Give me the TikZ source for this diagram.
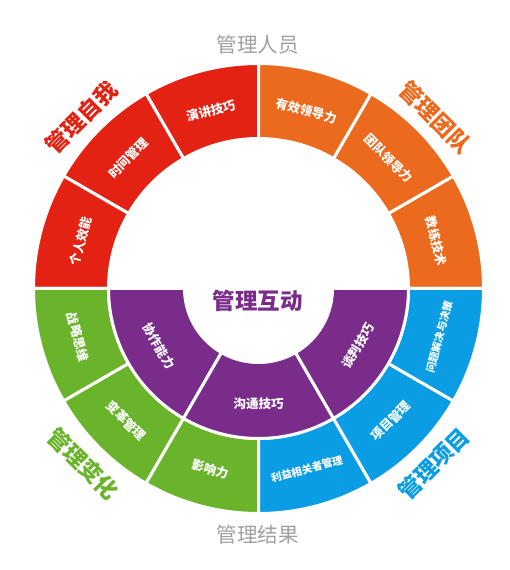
\documentclass[tikz,border=0pt]{standalone}
\usepackage{fontspec}
\newfontfamily\cjk{Noto Sans CJK SC}
\definecolor{cRed}{HTML}{E32213}
\definecolor{cOrange}{HTML}{EB6A1E}
\definecolor{cGreen}{HTML}{6AB42C}
\definecolor{cBlue}{HTML}{0A9DE3}
\definecolor{cPurple}{HTML}{7A2C8A}
\definecolor{cGray}{HTML}{A0A0A0}
\tikzset{
  sect/.style={draw=white, line width=3pt},
  seglab/.style={text=white, font=\cjk\bfseries\fontsize{12.5}{14}\selectfont, inner sep=0pt},
  seglabs/.style={text=white, font=\cjk\bfseries\fontsize{10.5}{12}\selectfont, inner sep=0pt},
  biglab/.style={font=\cjk\bfseries\fontsize{22.5}{24}\selectfont, inner sep=0pt},
  graylab/.style={text=cGray, font=\cjk\fontsize{20.5}{22}\selectfont, inner sep=0pt},
}
\newcommand{\sector}[5]{% color, a1, a2, r, R
  \filldraw[sect, fill=#1] (#2:#5) arc[start angle=#2, end angle=#3, radius=#5]
    -- (#3:#4) arc[start angle=#3, end angle=#2, radius=#4] -- cycle;}
\begin{document}
\begin{tikzpicture}[x=1pt,y=1pt]
\useasboundingbox (0,0) rectangle (510,570);
\fill[white] (0,0) rectangle (510,570);
\begin{scope}[shift={(258.5,281.5)}]
  % outer ring
  \sector{cRed}{90}{120}{150}{225}
  \sector{cRed}{120}{150}{150}{225}
  \sector{cRed}{150}{180}{150}{225}
  \sector{cOrange}{0}{30}{150}{225}
  \sector{cOrange}{30}{60}{150}{225}
  \sector{cOrange}{60}{90}{150}{225}
  \sector{cGreen}{180}{210}{150}{225}
  \sector{cGreen}{210}{240}{150}{225}
  \sector{cGreen}{240}{270}{150}{225}
  \sector{cBlue}{270}{300}{150}{225}
  \sector{cBlue}{300}{330}{150}{225}
  \sector{cBlue}{330}{360}{150}{225}
  % inner purple ring
  \sector{cPurple}{180}{240}{74}{150}
  \sector{cPurple}{240}{300}{74}{150}
  \sector{cPurple}{300}{360}{74}{150}
  % segment labels
  \node[seglab, rotate=15] (s1) at (105:184) {演讲技巧};
  \node[seglab, rotate=45] (s2) at (135:184) {时间管理};
  \node[seglab, rotate=75] (s3) at (165:184) {个人效能};
  \node[seglab, rotate=-15] (s4) at (75:184) {有效领导力};
  \node[seglab, rotate=-45] (s5) at (45:184) {团队领导力};
  \node[seglab, rotate=-75] (s6) at (15:184) {教练技术};
  \node[seglab, rotate=-75] (s7) at (195:187) {战略思维};
  \node[seglab, rotate=-45] (s8) at (225:187) {变革管理};
  \node[seglab, rotate=-15] (s9) at (255:187) {影响力};
  \node[seglabs, rotate=15] (s10) at (285:187) {利益相关者管理};
  \node[seglab, rotate=45] (s11) at (315:187) {项目管理};
  \node[seglabs, rotate=75] (s12) at (345:187) {问题解决与决策};
  \node[seglab, rotate=-60] (p1) at (210:115) {协作能力};
  \node[seglab, rotate=0] (p2) at (270:115) {沟通技巧};
  \node[seglab, rotate=60] (p3) at (330:115) {谈判技巧};
  % corner labels
  \node[biglab, text=cRed, rotate=45] (g1) at (136:246) {管理自我};
  \node[biglab, text=cOrange, rotate=-45] (g2) at (44:246) {管理团队};
  \node[biglab, text=cGreen, rotate=-45] (g3) at (225:248) {管理变化};
  \node[biglab, text=cBlue, rotate=45] (g4) at (315:248) {管理项目};
  % center and gray labels
  \node[biglab, text=cPurple] (ctr) at (-1,-12) {管理互动};
  \node[graylab] (top) at (-1,244) {管理人员};
  \node[graylab] (bot) at (-1,-246.5) {管理结果};
\end{scope}
\end{tikzpicture}
\end{document}
